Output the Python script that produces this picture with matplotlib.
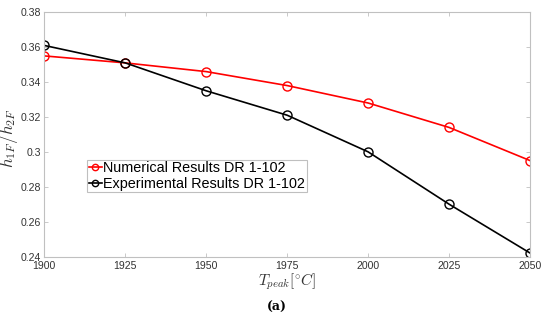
import matplotlib
matplotlib.use("Agg")
import matplotlib.pyplot as plt

temps = [1900, 1925, 1950, 1975, 2000, 2025, 2050]
numerical = [0.355, 0.351, 0.346, 0.338, 0.328, 0.314, 0.295]
experimental = [0.361, 0.351, 0.335, 0.321, 0.300, 0.270, 0.242]
yticks = [0.24, 0.26, 0.28, 0.3, 0.32, 0.34, 0.36, 0.38]
ytick_labels = ["0.24", "0.26", "0.28", "0.3", "0.32", "0.34", "0.36", "0.38"]

plt.rcParams['mathtext.fontset'] = 'cm'
plt.rcParams['font.family'] = ['Liberation Sans', 'DejaVu Sans']

W, H = 550, 321
fig = plt.figure(figsize=(W/100, H/100), dpi=100)
ax = fig.add_axes([44.3/W, 1-256.5/H, (530-44.3)/W, (256.5-12.3)/H])

ax.plot(temps, numerical, color='#ff0000', lw=1.2, marker='o', ms=6.5,
        mfc='none', mew=1.0, label='Numerical Results DR 1-102')
ax.plot(temps, experimental, color='black', lw=1.2, marker='o', ms=6.5,
        mfc='none', mew=1.0, label='Experimental Results DR 1-102')

ax.set_xlim(1900, 2050)
ax.set_ylim(0.24, 0.38)
ax.set_xticks(temps)
ax.set_yticks(yticks)
ax.set_yticklabels(ytick_labels)
ax.tick_params(direction='in', length=3, width=0.6, color='#c0c0c0',
               labelsize=7.6, labelcolor='#333333', top=True, right=True, pad=2.5)
ax.tick_params(axis='x', pad=3.5)
for s in ax.spines.values():
    s.set_color('#c0c0c0')
    s.set_linewidth(0.8)

ax.set_xlabel(r'$T_{peak}[^{\circ}C]$', fontsize=11, color='#333333', labelpad=0)
ax.set_ylabel(r'$h_{1F}/h_{2F}$', fontsize=12.3, color='#333333')
ax.yaxis.set_label_coords((20.5 - 44.3)/(530-44.3), 1-(138-12.3)/(256.5-12.3))

leg = ax.legend(loc='upper left', bbox_to_anchor=((87.3-44.3)/(530-44.3), 1-(160-12.3)/(256.5-12.3)),
                fontsize=10.4, frameon=True, fancybox=False, borderpad=0.1,
                handlelength=0.9, handletextpad=0.1, labelspacing=0.1,
                borderaxespad=0, markerscale=0.7)
leg.get_frame().set_edgecolor('#b0b0b0')
leg.get_frame().set_linewidth(0.8)

fig.text(277/W, 1-307/H, '(a)', fontsize=9, fontweight='bold', family='DejaVu Serif',
         ha='center', va='center')

fig.savefig('out.png', dpi=100)
